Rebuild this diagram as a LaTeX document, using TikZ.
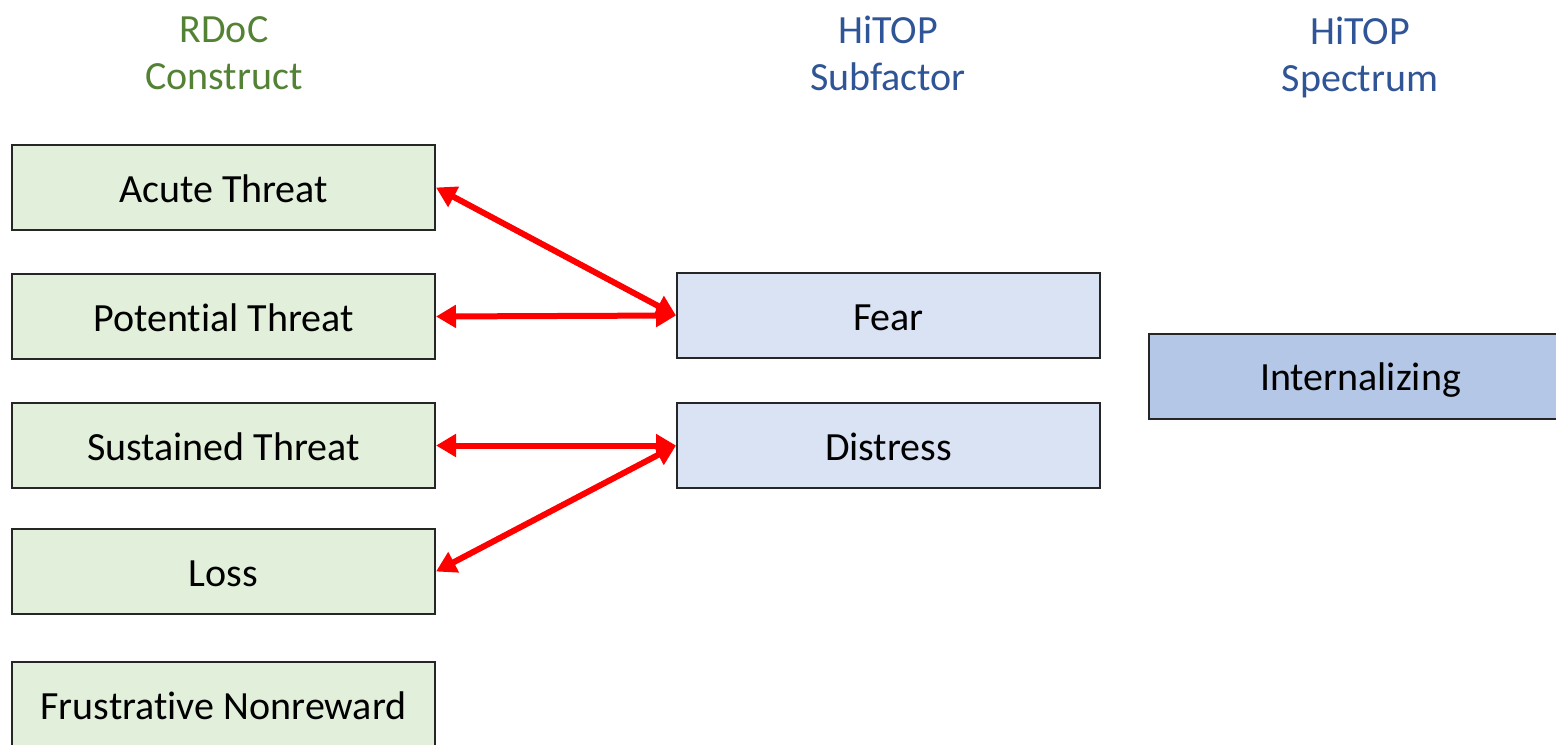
\documentclass[tikz,border=0pt]{standalone}
\usepackage{fontspec}
\setmainfont{Carlito}[Ligatures=NoCommon]
\usetikzlibrary{arrows.meta}

\definecolor{rdocgreen}{HTML}{548235}
\definecolor{hitopblue}{HTML}{2F5597}
\definecolor{rdocfill}{HTML}{E2EFDA}
\definecolor{subfill}{HTML}{DAE3F3}
\definecolor{specfill}{HTML}{B4C7E7}

\tikzset{
  boxbase/.style={draw=black!85, line width=1pt, inner sep=0pt, minimum width=211.5pt, minimum height=42.5pt, text height=16pt, text depth=1.5pt, font=\fontsize{20}{24}\selectfont},
  rdocbox/.style={boxbase, fill=rdocfill},
  subbox/.style={boxbase, fill=subfill},
  specbox/.style={boxbase, fill=specfill},
  header/.style={align=center, font=\fontsize{20}{23.5}\selectfont},
  link/.style={red, line width=3pt, {Triangle[length=10pt,width=11pt]}-{Triangle[length=10pt,width=11pt]}}
}

\begin{document}
\begin{tikzpicture}[x=0.5pt, y=-0.5pt]

    \useasboundingbox (0,0) rectangle (1556,744);

    % Column headers
    \node[header, text=rdocgreen] (hrdoc) at (224,53) {RDoC\\Construct};
    \node[header, text=hitopblue] (hsub) at (888,53) {HiTOP\\Subfactor};
    \node[header, text=hitopblue] (hspec) at (1360,57) {HiTOP\\Spectrum};

    % RDoC constructs
    \foreach \name/\y/\txt in {acute/187.5/Acute Threat, potential/316.5/Potential Threat, sustained/445.5/Sustained Threat, loss/571.5/Loss} {
        \node[rdocbox] (\name) at (223.5,\y) {\txt};
    }
    \begin{scope}
        \clip (0,0) rectangle (1556,744);
        \node[rdocbox] (frustrative) at (223.5,704.5) {Frustrative Nonreward};
        % spectrum box runs off the right edge
        \node[specbox] (internalizing) at (1360.5,376) {Internalizing};
    \end{scope}

    % HiTOP subfactors
    \node[subbox] (fear) at (888.5,315.5) {Fear};
    \node[subbox] (distress) at (888.5,445.5) {Distress};

    % links
    \draw[link] (acute.east) -- (fear.west);
    \draw[link] (potential.east) -- (fear.west);
    \draw[link] (sustained.east) -- (distress.west);
    \draw[link] (loss.east) -- (distress.west);

\end{tikzpicture}
\end{document}
